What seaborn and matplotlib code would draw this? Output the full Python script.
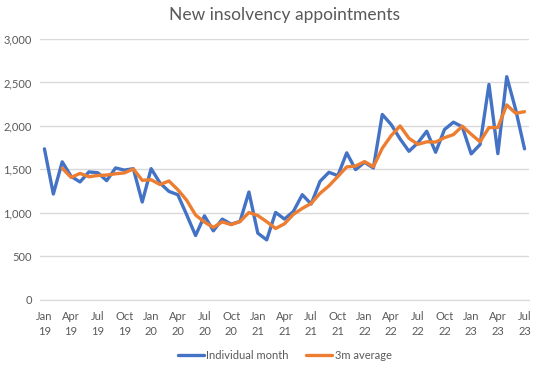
import matplotlib
matplotlib.use("Agg")
import matplotlib.pyplot as plt
import numpy as np
import pandas as pd
import seaborn as sns

# Monthly data, Jan 2019 - Jul 2023
months = pd.date_range("2019-01-01", "2023-07-01", freq="MS")
individual_month = [
    1735, 1215, 1585, 1418, 1354, 1469, 1460, 1369, 1515, 1490, 1507, 1123,
    1507, 1342, 1245, 1207, 976, 737, 964, 791, 926, 868, 899, 1238,
    764, 687, 1003, 926, 1014, 1207, 1100, 1361, 1465, 1426, 1689, 1496,
    1580, 1515, 2131, 2015, 1850, 1707, 1804, 1938, 1696, 1958, 2042, 1989,
    1677, 1785, 2477, 1680, 2566, 2189, 1735,
]
avg_3m = [
    np.nan, np.nan, 1512, 1406, 1452, 1414, 1428, 1433, 1448, 1458, 1504, 1373,
    1379, 1324, 1365, 1265, 1143, 973, 892, 831, 894, 862, 898, 1002,
    967, 896, 818, 872, 981, 1049, 1107, 1223, 1309, 1417, 1527, 1537,
    1588, 1530, 1742, 1887, 1999, 1857, 1787, 1816, 1813, 1864, 1899, 1996,
    1903, 1817, 1980, 1981, 2241, 2145, 2163,
]
y_ticks = [0, 500, 1000, 1500, 2000, 2500, 3000]

df = pd.DataFrame({
    "idx": np.arange(len(months)),
    "Individual month": individual_month,
    "3m average": avg_3m,
})

sns.set_style("white")
plt.rcParams["font.family"] = ["Lato", "DejaVu Sans"]
grey = "#595959"

fig = plt.figure(figsize=(5.39, 3.69), dpi=100)
ax = fig.add_axes([0.0742, 0.1883, 0.9072, 0.706])

sns.lineplot(data=df, x="idx", y="Individual month", ax=ax, color="#4472C4",
             linewidth=2.4, label="Individual month")
sns.lineplot(data=df, x="idx", y="3m average", ax=ax, color="#ED7D31",
             linewidth=2.4, label="3m average")

ax.set_xlim(-0.5, len(months) - 0.5)
ax.set_ylim(0, 3000)
ax.set_yticks(y_ticks)
ax.set_yticklabels([f"{v:,}" for v in y_ticks], color=grey, fontsize=8)
ax.yaxis.grid(True, color="#D9D9D9", linewidth=1)
ax.tick_params(axis="y", length=0, pad=6)

# tick marks between categories, labels on every third month
label_pos = np.arange(0, len(months), 3)
ax.set_xticks(label_pos - 0.5)
ax.set_xticklabels([])
ax.set_xticks(label_pos, minor=True)
ax.set_xticklabels([m.strftime("%b\n%y") for m in months[label_pos]],
                   minor=True, color=grey, fontsize=8, linespacing=1.45)
ax.tick_params(axis="x", which="major", length=4, color="#D9D9D9", direction="out")
ax.tick_params(axis="x", which="minor", length=0, pad=8)

for s in ["top", "right", "left"]:
    ax.spines[s].set_visible(False)
ax.spines["bottom"].set_color("#D9D9D9")
ax.set_xlabel("")
ax.set_ylabel("")

ax.set_title("New insolvency appointments", fontsize=12.5, color=grey, pad=14)
ax.legend(loc="center", bbox_to_anchor=(0.5, -0.215), ncol=2, frameon=False,
          fontsize=8, labelcolor=grey, handlelength=2.4, columnspacing=1.5,
          handletextpad=0.2)

fig.savefig("out.png", dpi=100)
